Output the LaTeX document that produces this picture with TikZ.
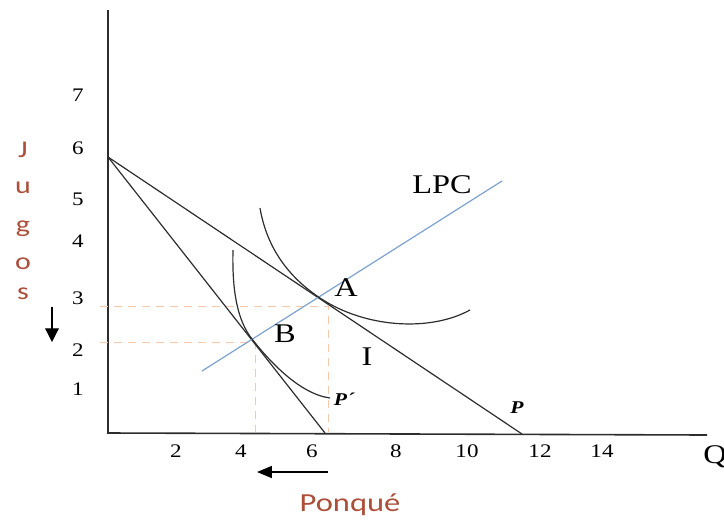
\documentclass[tikz,border=0pt]{standalone}
\usepackage{fontspec}
\setmainfont[FakeStretch=1.2]{Liberation Serif}
\newfontfamily\calibrifont[FakeStretch=1.25]{Carlito}
\usetikzlibrary{arrows.meta}
\definecolor{axisgrey}{RGB}{45,45,45}
\definecolor{lpcblue}{RGB}{125,162,208}
\definecolor{guideorange}{RGB}{248,200,170}
\definecolor{titlered}{RGB}{172,78,58}
\tikzset{
  axis/.style={draw=axisgrey,line width=0.8pt},
  budget/.style={draw=axisgrey,line width=0.6pt},
  icurve/.style={draw=axisgrey,line width=0.6pt},
  lpcline/.style={draw=lpcblue,line width=0.6pt},
  guide/.style={draw=guideorange,line width=0.5pt,dash pattern=on 4pt off 3pt},
  ticklabel/.style={font=\fontsize{9.6}{11}\selectfont,inner sep=0pt},
  pointlabel/.style={font=\fontsize{13.5}{16}\selectfont,inner sep=0pt},
  namelabel/.style={font=\calibrifont\fontsize{12}{14}\selectfont,text=titlered,inner sep=0pt},
  linelabel/.style={font=\bfseries\itshape\fontsize{9}{10}\selectfont,inner sep=0pt},
  move/.style={-{Triangle[length=2.4mm,width=2.4mm]},line width=0.6pt}
}

\begin{document}
\begin{tikzpicture}[x=0.5pt,y=-0.5pt]
  \useasboundingbox (0,0) rectangle (724,521);
  % axes
  \coordinate (ytop) at (108,10);
  \coordinate (O) at (108,433);
  \coordinate (xend) at (707,435);
  \draw[axis] (ytop) -- (O) -- (xend);
  \node[pointlabel] (qlabel) at (715,457) {Q};

  % tick labels
  \foreach \v/\px in {2/176,4/241,6/312,8/396,10/467,12/540,14/602}
    \node[ticklabel] (x\v) at (\px,451) {\v};
  \foreach \v/\py in {7/95,6/148,5/199,4/241,3/298,2/350,1/389}
    \node[ticklabel] (y\v) at (78,\py) {\v};

  % axis names and arrows
  \foreach \c/\py in {J/157,u/193,g/232,o/269,s/299}
    \node[namelabel,anchor=base] (j\c) at (23,\py) {\c};
  \node[namelabel,font=\calibrifont\fontsize{13}{15}\selectfont] (ponque) at (350,505) {Ponqué};
  \coordinate (jdown1) at (52,307);
  \coordinate (jdown2) at (52,342);
  \draw[move] (jdown1) -- (jdown2);
  \coordinate (pleft1) at (328,472);
  \coordinate (pleft2) at (257,472);
  \draw[move,-{Triangle[length=2.6mm,width=2.1mm]}] (pleft1) -- (pleft2);

  % guide lines
  \coordinate (gAy) at (100,306);
  \coordinate (gA) at (328,306);
  \coordinate (gAx) at (328,432);
  \draw[guide] (gAy) -- (gA) -- (gAx);
  \coordinate (gBy) at (100,342);
  \coordinate (gB) at (255,342);
  \coordinate (gBx) at (255,432);
  \draw[guide] (gBy) -- (gB) -- (gBx);

  % budget lines
  \coordinate (Y0) at (108,157);
  \coordinate (Pend) at (522,434);
  \coordinate (Ppend) at (325,433);
  \draw[budget] (Y0) -- (Pend);
  \draw[budget] (Y0) -- (Ppend);
  \node[linelabel] (plabel) at (517,408) {P};
  \node[linelabel] (pplabel) at (344,399) {P´};

  % price consumption line
  \coordinate (lpc1) at (202,371);
  \coordinate (lpc2) at (502,181);
  \draw[lpcline] (lpc1) -- (lpc2);
  \node[pointlabel] (lpclabel) at (442,185) {LPC};

  % indifference curves
  \coordinate (A) at (320,298);
  \coordinate (B) at (252,339);
  \coordinate (I1s) at (260,208);
  \coordinate (I1e) at (470,310);
  \coordinate (I2s) at (233,250);
  \coordinate (I2e) at (330,398);
  \draw[icurve] (I1s) .. controls (268,255) and (296,282) .. (A)
    .. controls (365,328) and (430,332) .. (I1e);
  \draw[icurve] (I2s) .. controls (232,290) and (237,320) .. (B)
    .. controls (270,362) and (300,394) .. (I2e);
  \node[pointlabel] (alabel) at (346,288) {A};
  \node[pointlabel] (blabel) at (285,334) {B};
  \node[pointlabel] (ilabel) at (367,357) {I};
\end{tikzpicture}
\end{document}
